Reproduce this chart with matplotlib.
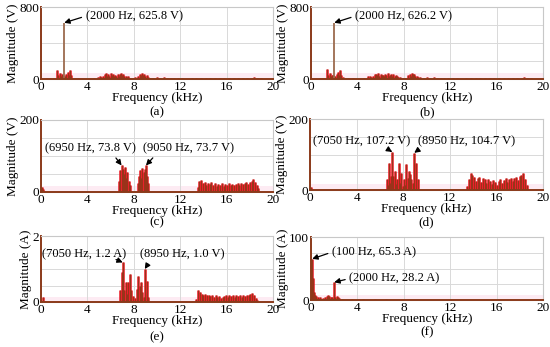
import matplotlib.pyplot as plt
import numpy as np

plt.rcParams['font.family'] = ['Liberation Serif', 'DejaVu Serif']
plt.rcParams['font.size'] = 9.5

RED = '#e8141e'
BROWN = '#8b3a1a'
TAN = '#9c6b4e'
GRID = '#d9d9d9'

# ---- (a) output voltage spectrum (V) ----
a_freq = [0.55, 0.75, 0.95, 1.15, 1.40, 1.50, 1.60, 1.70, 1.80, 1.90, 2.10, 2.20, 2.30, 2.40,
          2.50, 2.60, 2.75, 2.95, 3.2, 3.6, 4.2, 4.6, 4.9, 5.05, 5.2, 5.35, 5.5, 5.6, 5.7, 5.8,
          5.9, 6.0, 6.1, 6.2, 6.3, 6.4, 6.5, 6.6, 6.7, 6.8, 6.9, 7.0, 7.1, 7.2, 7.3, 7.4, 7.5,
          7.7, 7.9, 8.1, 8.4, 8.5, 8.6, 8.7, 8.8, 8.9, 9.0, 9.1, 9.2, 9.4, 9.7, 10.0, 10.3,
          10.6, 10.9, 11.2, 11.5, 11.8, 12.2, 12.6, 13.0, 13.4, 13.8, 14.2, 14.6, 15.0, 15.4,
          15.8, 16.2, 16.6, 17.0, 17.4, 17.8, 18.2, 18.4, 18.6, 19.0, 19.4, 19.8]
a_mag = [8, 10, 6, 12, 100, 45, 70, 30, 55, 40, 35, 60, 80, 45,
         105, 50, 15, 10, 8, 6, 6, 10, 25, 35, 20, 30, 55, 65, 40, 60,
         35, 70, 45, 55, 30, 50, 40, 60, 35, 55, 65, 45, 60, 35, 40, 25, 30,
         15, 12, 18, 40, 55, 45, 65, 50, 60, 35, 45, 25, 15, 12, 18, 14,
         20, 12, 15, 10, 12, 8, 6, 8, 10, 14, 12, 10, 14, 10,
         12, 10, 8, 10, 12, 10, 14, 20, 12, 8, 6, 6]
a_peak = (2.0, 625.8)

# ---- (b) output voltage spectrum (V) ----
b_freq = a_freq
b_mag = [6, 9, 8, 10, 110, 50, 65, 35, 50, 45, 30, 55, 75, 50,
         100, 45, 18, 12, 7, 8, 5, 12, 30, 40, 25, 35, 60, 55, 45, 65,
         40, 60, 50, 50, 35, 55, 45, 65, 40, 50, 60, 40, 55, 30, 45, 30, 25,
         18, 14, 15, 45, 60, 40, 70, 55, 55, 40, 40, 20, 18, 14, 20, 16,
         18, 14, 12, 12, 10, 10, 8, 6, 12, 12, 14, 12, 12, 12,
         10, 12, 10, 8, 10, 12, 12, 18, 10, 8, 6, 5]
b_peak = (2.0, 626.2)

# ---- (c) inverter voltage spectrum (V) ----
c_freq = [0.05, 0.15, 0.30,
          6.75, 6.85, 6.95, 7.05, 7.15, 7.25, 7.35, 7.45, 7.55, 7.65,
          8.35, 8.45, 8.55, 8.65, 8.75, 8.85, 8.95, 9.05, 9.15, 9.25,
          13.5, 13.65, 13.8, 13.95, 14.1, 14.25, 14.4, 14.55, 14.7, 14.85, 15.0, 15.15,
          15.3, 15.45, 15.6, 15.75, 15.9, 16.05, 16.2, 16.35, 16.5, 16.65, 16.8, 16.95,
          17.1, 17.25, 17.4, 17.55, 17.7, 17.85, 18.0, 18.15, 18.3, 18.45, 18.6, 18.7]
c_mag = [15, 8, 3,
         30, 60, 73.8, 65, 50, 70, 40, 55, 30, 20,
         25, 45, 60, 40, 68, 55, 65, 73.7, 45, 25,
         15, 30, 33, 25, 28, 20, 26, 22, 28, 20, 24, 18,
         22, 20, 25, 18, 22, 20, 24, 19, 23, 20, 22, 25,
         20, 26, 22, 24, 27, 22, 28, 30, 35, 28, 20, 10]

# ---- (d) voltage spectrum (V) ----
d_freq = [0.05, 0.15,
          6.6, 6.7, 6.75, 6.85, 6.95, 7.05, 7.15, 7.3, 7.4, 7.45, 7.6, 7.7, 7.75, 7.85, 7.95,
          8.05, 8.15, 8.25, 8.4, 8.5, 8.6, 8.7, 8.85, 8.95, 9.1, 9.25,
          13.5, 13.65, 13.8, 13.95, 14.1, 14.25, 14.4, 14.55, 14.7, 14.85, 15.0, 15.15,
          15.3, 15.45, 15.6, 15.75, 15.9, 16.05, 16.2, 16.35, 16.5, 16.65, 16.8, 16.95,
          17.1, 17.25, 17.4, 17.55, 17.7, 17.85, 18.0, 18.15, 18.3, 18.45, 18.6]
d_mag = [8, 3,
         30, 15, 77, 20, 40, 107.2, 40, 53, 18, 30, 77, 15, 20, 48, 12,
         30, 15, 74, 35, 53, 45, 30, 20, 104.7, 77, 30,
         12, 30, 48, 42, 38, 25, 35, 38, 22, 35, 32, 20,
         30, 25, 18, 28, 22, 15, 25, 30, 20, 28, 35, 22,
         32, 35, 25, 35, 38, 28, 40, 42, 48, 30, 15]

# ---- (e) current spectrum (A) ----
e_freq = [0.2, 0.35,
          6.85, 6.95, 7.05, 7.15, 7.3, 7.4, 7.5, 7.65, 7.8, 7.95, 8.1, 8.25, 8.35, 8.5,
          8.65, 8.75, 8.85, 8.95, 9.1, 9.25,
          13.4, 13.55, 13.7, 13.85, 14.0, 14.15, 14.3, 14.45, 14.6, 14.75, 14.9, 15.05,
          15.2, 15.35, 15.5, 15.65, 15.8, 15.95, 16.1, 16.25, 16.4, 16.55, 16.7, 16.85,
          17.0, 17.15, 17.3, 17.45, 17.6, 17.75, 17.9, 18.05, 18.2, 18.35, 18.5, 18.65]
e_mag = [0.15, 0.03,
         0.36, 0.91, 1.2, 0.35, 0.62, 0.25, 0.6, 0.86, 0.36, 0.18, 0.12, 0.4, 0.78, 0.5,
         0.6, 0.3, 0.15, 1.0, 0.65, 0.15,
         0.08, 0.35, 0.3, 0.25, 0.22, 0.24, 0.2, 0.22, 0.18, 0.2, 0.16, 0.2,
         0.15, 0.18, 0.13, 0.16, 0.18, 0.2, 0.16, 0.2, 0.18, 0.2, 0.15, 0.2,
         0.18, 0.2, 0.16, 0.2, 0.18, 0.2, 0.22, 0.25, 0.28, 0.22, 0.12, 0.05]

# ---- (f) grid current spectrum (A) ----
f_freq = [0.05, 0.1, 0.15, 0.25, 0.35, 0.45, 0.6, 0.8, 1.0, 1.2, 1.35, 1.45, 1.55, 1.7,
          1.85, 2.0, 2.1, 2.2, 2.3, 2.45, 2.7, 3.5, 4.5, 5.5, 6.5, 8.0]
f_mag = [20, 65.3, 35, 12, 8, 6, 4, 5, 3, 4, 7, 8, 6, 4,
         5, 28.2, 5, 6, 4, 3, 2, 1, 1.2, 1.5, 1, 0.8]

W, H = 550, 347

panels = [
    dict(freq=a_freq, mag=a_mag, peak=a_peak, ymax=800, unit='V', tag='(a)', tag_y=112,
         pos=[0.0745, 0.772, 0.4218, 0.2075],
         notes=[('(2000 Hz, 625.8 V)', 2.0, 625.8, 3.85, 700, 'left', (0, 0.5))]),
    dict(freq=b_freq, mag=b_mag, peak=b_peak, ymax=800, unit='V', tag='(b)', tag_y=112,
         pos=[0.5655, 0.772, 0.4218, 0.2075],
         notes=[('(2000 Hz, 626.2 V)', 2.0, 626.2, 3.8, 700, 'left', (0, 0.5))]),
    dict(freq=c_freq, mag=c_mag, peak=None, ymax=200, unit='V', tag='(c)', tag_y=222,
         pos=[0.0745, 0.4467, 0.4218, 0.2075],
         notes=[('(6950 Hz, 73.8 V)', 6.95, 73.8, 4.25, 122, 'center', (0.74, 0.1)),
                ('(9050 Hz, 73.7 V)', 9.05, 73.7, 12.7, 122, 'center', (0.16, 0.1))]),
    dict(freq=d_freq, mag=d_mag, peak=None, ymax=200, unit='V', tag='(d)', tag_y=222,
         pos=[0.5636, 0.4524, 0.4236, 0.2046],
         notes=[('(7050 Hz, 107.2 V)', 7.05, 107.2, 4.45, 137, 'center', (0.72, 0.1)),
                ('(8950 Hz, 104.7 V)', 8.95, 104.7, 13.4, 137, 'center', (0.06, 0.1))]),
    dict(freq=e_freq, mag=e_mag, peak=None, ymax=2, unit='A', tag='(e)', tag_y=337,
         pos=[0.0745, 0.1297, 0.4218, 0.190],
         notes=[('(7050 Hz, 1.2 A)', 7.05, 1.2, 3.75, 1.45, 'center', (0.86, 0.1)),
                ('(8950 Hz, 1.0 V)', 8.95, 1.0, 12.2, 1.45, 'center', (0.13, 0.1))]),
    dict(freq=f_freq, mag=f_mag, peak=None, ymax=100, unit='A', tag='(f)', tag_y=332,
         pos=[0.5655, 0.1354, 0.4218, 0.1816],
         notes=[('(100 Hz, 65.3 A)', 0.1, 65.3, 1.8, 76, 'left', (0, 0.5)),
                ('(2000 Hz, 28.2 A)', 2.0, 28.2, 3.3, 34, 'left', (0, 0.5))]),
]

fig = plt.figure(figsize=(W / 100, H / 100), dpi=100)

for p in panels:
    ax = fig.add_axes(p['pos'])
    ymax = p['ymax']
    ax.set_xlim(0, 20)
    ax.set_ylim(0, ymax)
    # faint pink glow along the baseline
    ax.axhspan(0, ymax * 0.08, color='#fdebf3', zorder=0.5, lw=0)
    ax.vlines(p['freq'], 0, p['mag'], color=RED, lw=1.8, zorder=2)
    ax.vlines(p['freq'], 0, p['mag'], color=BROWN, lw=0.6, zorder=3)
    if p['peak'] is not None:
        ax.vlines(p['peak'][0], 0, p['peak'][1], color=TAN, lw=1.3, zorder=3)
    ax.axhline(0, color=BROWN, lw=1.4, zorder=4, clip_on=False)

    ticks = np.linspace(0, ymax, 5)
    ax.set_xticks([0, 4, 8, 12, 16, 20])
    ax.set_yticks(ticks)
    ax.set_yticklabels([f'{ymax:g}' if v == ymax else ('0' if v == 0 else '') for v in ticks])
    ax.tick_params(length=0, pad=1.5, labelsize=9.5)
    ax.grid(True, color=GRID, lw=0.7, zorder=0)
    ax.set_axisbelow(True)
    for s in ['top', 'right', 'bottom']:
        ax.spines[s].set_color('#c8c8c8')
        ax.spines[s].set_linewidth(0.8)
    ax.spines['left'].set_color(BROWN)
    ax.spines['left'].set_linewidth(1.4)

    ax.set_xlabel('Frequency (kHz)', labelpad=-1)
    ax.set_ylabel(f'Magnitude ({p["unit"]})', labelpad=0)
    x0, _, w, _ = p['pos']
    fig.text(x0 + w / 2, 1 - p['tag_y'] / H, p['tag'], ha='center', va='center')

    for text, fx, fy, tx, ty, ha, rel in p['notes']:
        ax.annotate(text, xy=(fx, fy), xytext=(tx, ty), ha=ha, va='center',
                    fontsize=9, zorder=6,
                    arrowprops=dict(arrowstyle='-|>', color='black', lw=0.9,
                                    mutation_scale=8, relpos=rel,
                                    shrinkA=1, shrinkB=0))

fig.savefig('out.png', dpi=100)
